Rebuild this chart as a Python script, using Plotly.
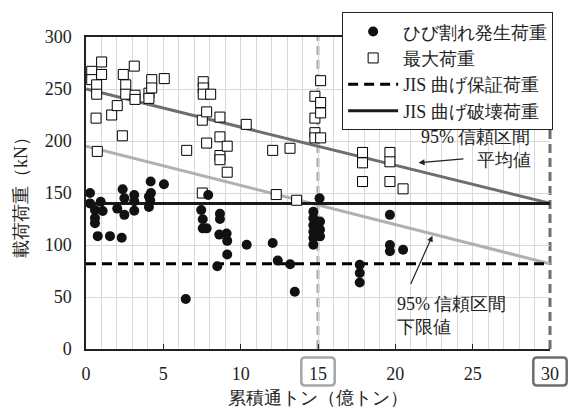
import plotly.graph_objects as go

# ---- data ----
crack_x = [0.26, 0.26, 0.95, 0.58, 1.08, 0.58, 0.58, 0.76, 1.55, 2.31,
           2.37, 2.48, 2.02, 2.48, 3.12, 3.12, 3.12, 4.18, 4.2, 4.07,
           4.15, 4.07, 5.04,
           6.45, 7.45, 7.55, 7.55, 7.8, 7.9, 8.66, 8.66, 8.62, 9.09,
           9.13, 9.13, 8.49, 10.39, 12.07, 12.4, 13.2, 13.5,
           15.1, 14.7, 14.7, 14.7, 14.7, 14.7, 14.7, 15.13, 15.13, 15.13,
           17.7, 17.7, 17.7, 19.65, 19.65, 19.65, 20.5]
crack_y = [150, 140, 141.6, 133.6, 132.7, 126, 121, 108.5, 108.5, 107,
           153.6, 145, 135, 129, 148, 142, 133, 161, 150, 146.7,
           143, 136.5, 158.4,
           48, 133.6, 124.8, 116, 116, 148, 130, 125, 110, 111,
           104, 90.8, 79.5, 100.3, 102, 85, 81.5, 55,
           145, 132, 125.7, 119, 112.7, 106.7, 100.3, 122.5, 114.6, 108.3,
           81, 73, 64, 129, 100, 94, 95.5]

max_x = [0.37, 0.37, 0.69, 0.69, 1.01, 1.01, 0.65, 0.73, 1.66, 2.02,
         2.35, 2.41, 2.57, 2.57, 3.12, 3.17, 3.17, 4.07, 4.07, 4.25,
         4.25, 5.06,
         6.51, 7.52, 7.52, 7.58, 7.58, 7.58, 8.06, 7.8, 7.8, 8.66,
         8.66, 8.66, 8.66, 9.13, 9.13, 10.36, 12.07, 12.3, 13.19, 13.62,
         14.8, 14.8, 14.8, 14.8, 15.17, 15.17, 15.17, 15.17,
         17.88, 17.88, 17.88, 19.65, 19.65, 19.65, 20.5]
max_y = [267, 259, 254, 245, 276, 264, 222, 190, 225, 234,
         205, 264, 254, 245, 272, 244, 240, 246, 241, 259,
         251, 260,
         191, 220, 150, 257, 251, 245, 245, 228, 198, 223,
         204, 186, 182, 195, 170, 216, 191, 148.5, 193, 143,
         243, 222, 208, 203, 258, 237, 227, 203,
         189, 179, 161, 189, 180, 161, 154]

jis_guarantee = 82      # JIS 曲げ保証荷重
jis_failure = 140       # JIS 曲げ破壊荷重
mean_x = [0, 30]        # 95% 信頼区間 平均値
mean_y = [250, 140]
lower_x = [0, 30]       # 95% 信頼区間 下限値
lower_y = [195, 82]
x_range = [0, 30]
y_range = [0, 300]
x_ticks = [0, 5, 10, 15, 20, 25, 30]
y_ticks = [0, 50, 100, 150, 200, 250, 300]
marked_x = [15, 30]
marked_colors = ["#a6a6a6", "#6e6e6e"]

FONT = "Liberation Serif"

fig = go.Figure()

# regression lines (no legend)
fig.add_trace(go.Scatter(x=mean_x, y=mean_y, mode="lines",
                         line=dict(color="#6e6e6e", width=3),
                         showlegend=False, hoverinfo="skip"))
fig.add_trace(go.Scatter(x=lower_x, y=lower_y, mode="lines",
                         line=dict(color="#b0b0b0", width=3),
                         showlegend=False, hoverinfo="skip"))

# JIS lines
fig.add_trace(go.Scatter(x=x_range, y=[jis_guarantee] * 2, mode="lines",
                         name="JIS 曲げ保証荷重", legendrank=3,
                         line=dict(color="black", width=3, dash="10px,6px")))
fig.add_trace(go.Scatter(x=x_range, y=[jis_failure] * 2, mode="lines",
                         name="JIS 曲げ破壊荷重", legendrank=4,
                         line=dict(color="#1a1a1a", width=3)))

# data points
fig.add_trace(go.Scatter(x=max_x, y=max_y, mode="markers", name="最大荷重",
                         legendrank=2,
                         marker=dict(symbol="square", size=10, color="white",
                                     line=dict(color="black", width=1))))
fig.add_trace(go.Scatter(x=crack_x, y=crack_y, mode="markers",
                         name="ひび割れ発生荷重", legendrank=1,
                         marker=dict(symbol="circle", size=10, color="#111111",
                                     line=dict(width=0))))

# vertical dashed markers at 15 and 30
span = x_range[1] - x_range[0]
for v, c in zip(marked_x, marked_colors):
    px = (v - x_range[0]) / span
    fig.add_shape(type="line", xref="paper", yref="y", x0=px, x1=px,
                  y0=y_range[0], y1=y_range[1], layer="between",
                  line=dict(color=c, width=3, dash="9px,5px"))
    # rounded box around tick label
    w = 0.036
    y0, y1 = -0.117, -0.027
    r = 0.012
    rx = r * 315 / 464
    path = (f"M{px - w + rx},{y1} L{px + w - rx},{y1} Q{px + w},{y1} {px + w},{y1 - r} "
            f"L{px + w},{y0 + r} Q{px + w},{y0} {px + w - rx},{y0} "
            f"L{px - w + rx},{y0} Q{px - w},{y0} {px - w},{y0 + r} "
            f"L{px - w},{y1 - r} Q{px - w},{y1} {px - w + rx},{y1} Z")
    fig.add_shape(type="path", xref="paper", yref="paper", path=path,
                  line=dict(color=c, width=2.5))

# annotations
fig.add_annotation(x=28.9, y=193, xref="x", yref="y", text="95% 信頼区間<br>平均値",
                   showarrow=False, xanchor="right", yanchor="middle", align="right",
                   font=dict(size=18, family=FONT, color="#222"))
fig.add_annotation(x=21.5, y=179, ax=24.5, ay=183, xref="x", yref="y",
                   axref="x", ayref="y", text="", showarrow=True,
                   arrowhead=2, arrowsize=1, arrowwidth=1.2, arrowcolor="#222")
fig.add_annotation(x=19.95, y=32, xref="x", yref="y", text="95% 信頼区間<br>下限値",
                   showarrow=False, xanchor="left", yanchor="middle", align="left",
                   font=dict(size=18, family=FONT, color="#222"))
fig.add_annotation(x=22.4, y=109, ax=20.95, ay=61, xref="x", yref="y",
                   axref="x", ayref="y", text="", showarrow=True,
                   arrowhead=2, arrowsize=1, arrowwidth=1.2, arrowcolor="#222")

fig.update_layout(
    width=579, height=417,
    margin=dict(l=86, r=29, t=37, b=65),
    paper_bgcolor="white", plot_bgcolor="white",
    font=dict(family=FONT, size=18, color="#222"),
    showlegend=True,
    legend=dict(x=0.552, y=1.079, xanchor="left", yanchor="top",
                bgcolor="white", bordercolor="#222", borderwidth=1,
                font=dict(size=18, family=FONT), itemwidth=50,
                tracegroupgap=0),
    xaxis=dict(range=x_range, tickvals=x_ticks, showgrid=False,
               showline=True, linecolor="#222", linewidth=1.5, mirror=True,
               ticks="inside", ticklen=5, tickcolor="#222",
               ticklabelstandoff=8,
               minor=dict(dtick=1, showgrid=True, gridcolor="#d9d9d9", gridwidth=1),
               zeroline=False,
               title=dict(text="累積通トン（億トン）", font=dict(size=18), standoff=8)),
    yaxis=dict(range=y_range, tickvals=y_ticks, showgrid=True,
               gridcolor="#d9d9d9", gridwidth=1,
               showline=True, linecolor="#222", linewidth=1.5, mirror=False,
               zeroline=False, ticks="", ticklabelstandoff=9,
               title=dict(text="載荷荷重（kN）", font=dict(size=18), standoff=12)),
)

fig.write_html("out.html", config={"displayModeBar": False},
               post_script="document.body.style.margin='0px';")
